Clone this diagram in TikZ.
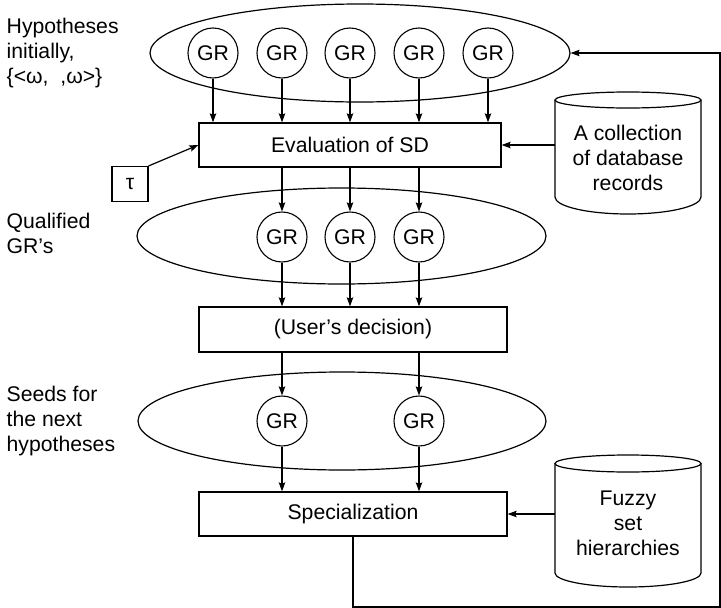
\documentclass[tikz,border=0pt]{standalone}
\usepackage{fontspec}
\setmainfont{Liberation Sans}
\usetikzlibrary{arrows.meta,shapes.geometric}

\begin{document}
\begin{tikzpicture}[x=1pt,y=-1pt,
  every node/.style={font=\fontsize{21.2}{25}\selectfont},
  grnode/.style={circle,draw,line width=1.1pt,minimum size=50pt,inner sep=0pt},
  setnode/.style={ellipse,draw,line width=1.2pt,inner sep=0pt},
  procbox/.style={rectangle,draw,line width=1.3pt,inner sep=0pt},
  dbtext/.style={align=center,inner sep=0pt,minimum width=146pt},
  sidelabel/.style={align=left,anchor=north west,inner sep=0pt},
  cyl/.style={line width=1.2pt},
  arr/.style={line width=1.2pt,-{Stealth[length=9pt,width=6.5pt,inset=1.5pt]}}
]
\useasboundingbox (0,0) rectangle (721,608);

% ---- sets of hypotheses ----
\node[setnode,minimum width=420pt,minimum height=98pt] (set1) at (360,53) {};
\node[setnode,minimum width=409pt,minimum height=96pt] (set2) at (341.5,236) {};
\node[setnode,minimum width=408pt,minimum height=98pt] (set3) at (342,421) {};

% ---- GR nodes ----
\node[grnode] (g1) at (213,53) {GR};
\node[grnode] (g2) at (282,53) {GR};
\node[grnode] (g3) at (350,53) {GR};
\node[grnode] (g4) at (419,53) {GR};
\node[grnode] (g5) at (488,53) {GR};

\node[grnode] (q1) at (282,237) {GR};
\node[grnode] (q2) at (350,237) {GR};
\node[grnode] (q3) at (419,237) {GR};

\node[grnode] (s1) at (282,421) {GR};
\node[grnode] (s2) at (419,421) {GR};

% ---- processing boxes ----
\node[procbox,minimum width=302pt,minimum height=44pt] (eval) at (350,145) {Evaluation of SD};
\node[procbox,minimum width=308pt,minimum height=45pt] (users) at (353,329.5) {(User’s decision)};
\node[procbox,minimum width=308pt,minimum height=44pt] (spec) at (353,514) {Specialization};
\node[procbox,line width=1.1pt,minimum width=36pt,minimum height=35pt] (tau) at (130,184) {τ};

% ---- databases ----
\draw[cyl] (628,100) ellipse [x radius=73pt,y radius=8pt];
\draw[cyl] (555,100) -- (555,197) arc[start angle=180,end angle=360,x radius=73pt,y radius=17pt] -- (701,100);
\node[dbtext] (db1) at (628,158) {A collection\\of database\\records};

\draw[cyl] (628,463.5) ellipse [x radius=73pt,y radius=8.5pt];
\draw[cyl] (555,463.5) -- (555,573) arc[start angle=180,end angle=360,x radius=73pt,y radius=14pt] -- (701,463.5);
\node[dbtext] (db2) at (628,523) {Fuzzy\\set\\hierarchies};

% ---- side labels ----
\node[sidelabel] (lab1) at (6.5,17.8) {Hypotheses\\initially,\\\{<ω,\ \ ,ω>\}};
\node[sidelabel] (lab2) at (6.5,212.8) {Qualified\\GR’s};
\node[sidelabel] (lab3) at (6.5,385.8) {Seeds for\\the next\\hypotheses};

% ---- connectors ----
\foreach \i in {1,...,5}
  \draw[arr] (g\i.south) -- (g\i.south |- eval.north);
\foreach \i in {1,2,3} {
  \draw[arr] (eval.south -| q\i) -- (q\i.north);
  \draw[arr] (q\i.south) -- (q\i.south |- users.north);
}
\foreach \i in {1,2} {
  \draw[arr] (users.south -| s\i) -- (s\i.north);
  \draw[arr] (s\i.south) -- (s\i.south |- spec.north);
}
\draw[arr] (tau.north east) -- (eval.west);
\draw[arr] (eval.east -| db1.west) -- (eval.east);
\draw[arr] (spec.east -| db2.west) -- (spec.east);

% feedback loop from specialization back to the initial hypotheses
\coordinate (fb) at (720,607);
\draw[arr] (spec.south) |- (fb) |- (set1.east);
\end{tikzpicture}
\end{document}
